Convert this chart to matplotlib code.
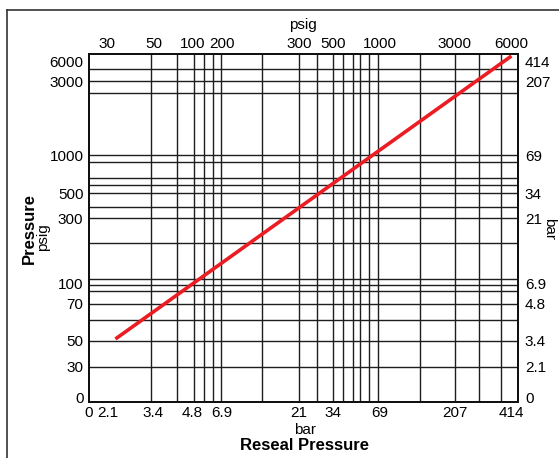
import matplotlib
matplotlib.use("Agg")
import matplotlib.pyplot as plt
import matplotlib.ticker as mticker
from matplotlib.lines import Line2D

# both axes are log psig; the chart's grid and labels are irregular, so
# values below are read off the picture
x_grid = [33.6, 49, 63, 74, 84, 95, 173, 300, 390, 495, 577, 663, 738, 847, 960, 1790, 3000, 4280, 5980]
y_grid = [24.9, 38.3, 54.6, 70.7, 88.8, 97.3, 107.6, 197, 300, 365, 457, 522, 588, 777, 865, 2450, 3000, 3670]

top_pos = [17.6, 34.8, 61.8, 96.3, 300, 494, 985, 3000, 6950]
top_labels = ["30", "50", "100", "200", "300", "500", "1000", "3000", "6000"]
bottom_pos = [13.4, 17.6, 34.8, 61.8, 96.3, 300, 494, 985, 3000, 6950]
bottom_labels = ["0", "2.1", "3.4", "4.8", "6.9", "21", "34", "69", "207", "414"]

left_pos = [14.9, 24.9, 38.3, 71.4, 101, 300, 455, 868, 3000, 4150]
left_labels = ["0", "30", "50", "70", "100", "300", "500", "1000", "3000", "6000"]
right_labels = ["0", "2.1", "3.4", "4.8", "6.9", "21", "34", "69", "207", "414"]

# reseal pressure curve
line_x = [19.8, 6950]
line_y = [39.6, 4590]

xlim = (13.4, 7660)
ylim = (13.75, 4746)

narrow = ["Liberation Sans Narrow", "Liberation Sans", "DejaVu Sans"]
bold = ["Liberation Sans", "DejaVu Sans"]
tick_fs = 11

fig = plt.figure(figsize=(5.59, 4.58), dpi=100)
ax = fig.add_axes([89 / 559, 1 - 402 / 458, 429 / 559, 348 / 458])

for v in x_grid:
    ax.axvline(v, color="#1e1e1e", lw=1.0, zorder=1)
for v in y_grid:
    ax.axhline(v, color="#1e1e1e", lw=1.0, zorder=1)

ax.plot(line_x, line_y, color="#ec1c24", lw=2.6, solid_capstyle="butt", zorder=3)

ax.set_xscale("log")
ax.set_yscale("log")
ax.set_xlim(*xlim)
ax.set_ylim(*ylim)

ax_top = ax.twiny()
ax_right = ax.twinx()
ax_top.set_xscale("log")
ax_top.set_xlim(*xlim)
ax_right.set_yscale("log")
ax_right.set_ylim(*ylim)

ax.set_xticks(bottom_pos, bottom_labels)
ax.set_yticks(left_pos, left_labels)
ax_top.set_xticks(top_pos, top_labels)
ax_right.set_yticks(left_pos, right_labels)

for a in (ax, ax_top, ax_right):
    a.xaxis.set_minor_locator(mticker.NullLocator())
    a.yaxis.set_minor_locator(mticker.NullLocator())
    a.tick_params(length=0, labelsize=tick_fs)
    for lab in a.get_xticklabels() + a.get_yticklabels():
        lab.set_family(narrow)
    for s in a.spines.values():
        s.set_linewidth(1.3)
        s.set_color("#111111")

ax.tick_params(axis="x", pad=3)
ax.tick_params(axis="y", pad=4)
ax_top.tick_params(axis="x", pad=2.5)
ax_right.tick_params(axis="y", pad=5)

# axis titles
fig.text(303 / 559, 1 - 25 / 458, "psig", ha="center", va="center", fontsize=tick_fs, family=narrow)
fig.text(305 / 559, 1 - 430 / 458, "bar", ha="center", va="center", fontsize=tick_fs, family=narrow)
fig.text(305 / 559, 1 - 446 / 458, "Reseal Pressure", ha="center", va="center",
         fontsize=12, fontweight="bold", family=bold)
fig.text(29 / 559, 1 - 228 / 458, "Pressure", ha="center", va="center", rotation=90,
         fontsize=12, fontweight="bold", family=bold)
fig.text(43 / 559, 1 - 237 / 458, "psig", ha="center", va="center", rotation=90,
         fontsize=tick_fs, family=narrow)
fig.text(549 / 559, 1 - 229 / 458, "bar", ha="center", va="center", rotation=270,
         fontsize=tick_fs, family=narrow)

# outer frame (left and top edges)
fx, fy = 7 / 559, 1 - 10 / 458
fig.add_artist(Line2D([fx, fx], [0, fy], color="#333333", lw=1.2))
fig.add_artist(Line2D([fx, 1], [fy, fy], color="#333333", lw=1.2))

fig.savefig("out.png", dpi=100)
